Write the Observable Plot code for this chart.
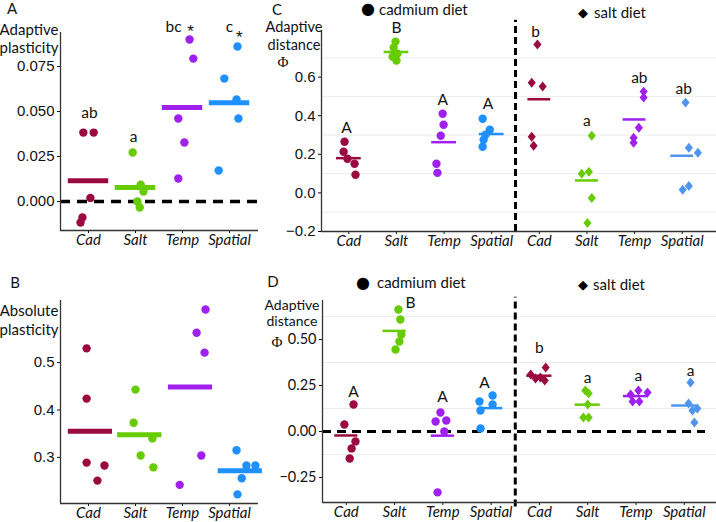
<!DOCTYPE html>
<html><head><meta charset="utf-8">
<script src="https://cdn.jsdelivr.net/npm/d3@7"></script>
<script src="https://cdn.jsdelivr.net/npm/@observablehq/plot@0.6"></script>
<style>
body{margin:0;background:#fff;}
#root{position:relative;width:716px;height:522px;overflow:hidden;}
.lbl{position:absolute;font-family:Lato,sans-serif;color:#111;white-space:nowrap;line-height:1;transform:translate(-50%,-50%);}
.pan{position:absolute;}
</style></head><body><div id="root"></div>
<script>
// ---------- data ----------
const categories = ["Cad", "Salt", "Temp", "Spatial"];
const colors = ["#9b0a3f", "#66cc00", "#a020f0", "#1e90ff"];
const saltDietColors = ["#9b0a3f", "#66cc00", "#a020f0", "#4f95ee"];

// Panel A: adaptive plasticity
const plastA = [
  [0.0383, 0.0383, 0.0020, -0.0089, -0.0117],
  [0.0272, 0.0094, 0.0056, 0.0000, -0.0033],
  [0.0900, 0.0794, 0.0461, 0.0328, 0.0128],
  [0.0861, 0.0683, 0.0567, 0.0461, 0.0172]
];
const jitA = [
  [-0.11, 0.11, 0.04, -0.13, -0.17],
  [-0.06, 0.11, 0.17, 0.04, 0.09],
  [0.15, 0.23, -0.09, 0.04, -0.09],
  [0.17, -0.11, 0.15, 0.19, -0.23]
];
const lettersA = ["ab", "a", "bc", "c"];
const letterYA = [0.0494, 0.0356, 0.0967, 0.0967];
const letterJitA = [0.02, -0.04, -0.19, 0.0];
const starCatsA = [2, 3];
const starYA = [0.0945, 0.0912];
const starJitA = [0.17, 0.21];
const ticksA = [0, 0.025, 0.05, 0.075];

// Panel B: absolute plasticity
const absB = [
  [0.530, 0.424, 0.289, 0.283, 0.251],
  [0.443, 0.373, 0.340, 0.304, 0.279],
  [0.612, 0.563, 0.521, 0.304, 0.242],
  [0.315, 0.283, 0.283, 0.256, 0.222]
];
const jitB = [
  [-0.04, -0.04, -0.04, 0.34, 0.19],
  [0.0, -0.04, 0.36, 0.11, 0.38],
  [0.49, 0.30, 0.47, 0.40, -0.06],
  [0.15, 0.36, 0.55, 0.26, 0.17]
];
const meanShiftB = [0.04, 0.09, 0.17, 0.23];
const ticksB = [0.3, 0.4, 0.5];

// Panel C: adaptive distance (cadmium diet / salt diet)
const distCcad = [
  [0.265, 0.213, 0.177, 0.151, 0.094],
  [0.784, 0.753, 0.722, 0.706, 0.686],
  [0.410, 0.353, 0.296, 0.151, 0.104],
  [0.384, 0.327, 0.301, 0.275, 0.239]
];
const jitCcad = [
  [-0.09, -0.11, -0.03, 0.12, 0.14],
  [-0.02, -0.06, 0.02, -0.08, 0.0],
  [-0.03, -0.01, -0.07, -0.16, -0.14],
  [-0.19, -0.04, -0.13, -0.17, -0.19]
];
const distCsalt = [
  [0.769, 0.571, 0.551, 0.291, 0.244],
  [0.296, 0.109, 0.099, -0.026, -0.156],
  [0.525, 0.494, 0.338, 0.286, 0.260],
  [0.468, 0.234, 0.208, 0.036, 0.016]
];
const jitCsalt = [
  [-0.04, -0.16, 0.07, -0.16, -0.12],
  [0.10, 0.04, -0.11, 0.10, 0.01],
  [0.19, 0.19, 0.09, -0.02, -0.02],
  [0.07, 0.14, 0.33, 0.14, 0.01]
];
const lettersC = ["A", "B", "A", "A", "b", "a", "ab", "ab"];
const letterYC = [0.338, 0.852, 0.483, 0.462, 0.836, 0.374, 0.597, 0.540];
const letterJitC = [-0.05, 0.0, -0.03, -0.08, -0.08, 0.0, 0.1, 0.03];
const ticksC = [-0.2, 0, 0.2, 0.4, 0.6];
const gridC = [-0.1, 0.1, 0.3, 0.5, 0.7];

// Panel D: adaptive distance (cadmium diet / salt diet)
const distDcad = [
  [0.147, 0.038, -0.054, -0.092, -0.147],
  [0.663, 0.609, 0.527, 0.489, 0.446],
  [0.103, 0.054, 0.060, 0.000, -0.331],
  [0.196, 0.163, 0.147, 0.114, 0.016]
];
const jitDcad = [
  [0.15, -0.04, 0.19, 0.11, 0.07],
  [0.08, 0.12, 0.14, 0.10, 0.02],
  [-0.05, -0.15, 0.07, 0.03, -0.11],
  [0.03, -0.24, 0.03, -0.22, -0.22]
];
const distDsalt = [
  [0.348, 0.310, 0.293, 0.288, 0.277],
  [0.223, 0.207, 0.147, 0.076, 0.076],
  [0.223, 0.201, 0.212, 0.163, 0.163],
  [0.266, 0.152, 0.114, 0.125, 0.049]
];
const jitDsalt = [
  [0.13, -0.18, 0.02, -0.08, 0.11],
  [-0.05, 0.02, 0.0, -0.09, 0.02],
  [0.05, -0.11, 0.24, -0.07, 0.07],
  [0.13, 0.09, 0.17, 0.27, 0.21]
];
const lettersD = ["A", "B", "A", "A", "b", "a", "a", "a"];
const letterYD = [0.217, 0.700, 0.190, 0.266, 0.451, 0.293, 0.299, 0.326];
const letterJitD = [0.15, 0.33, -0.01, -0.14, 0.0, 0.0, 0.05, 0.13];
const ticksD = [-0.25, 0, 0.25, 0.5];
const gridD = [-0.125, 0.125, 0.375, 0.625];

// ---------- helpers ----------
const root = document.getElementById("root");
const diamondSym = {
  draw(ctx, size) {
    const r = Math.sqrt(size / 2);
    const w = r * 0.9, h = r * 1.1;
    ctx.moveTo(0, -h); ctx.lineTo(w, 0); ctx.lineTo(0, h); ctx.lineTo(-w, 0); ctx.closePath();
  }
};
function pts(values, jit, offset, cols) {
  return values.flatMap((arr, i) => arr.map((v, k) => ({x: i + offset + jit[i][k], y: v, fill: cols[i]})));
}
function means(values, offset, half, cols, shift) {
  return values.map((arr, i) => {
    const c = i + offset + (shift ? shift[i] : 0);
    return {x1: c - half, x2: c + half, y: d3.mean(arr), stroke: cols[i]};
  });
}
function letterData(letters, ys, jit) {
  return letters.map((t, i) => ({x: i + jit[i], y: ys[i], t}));
}
function place(svg, left, top) {
  svg.classList.add("pan");
  svg.style.left = left + "px";
  svg.style.top = top + "px";
  d3.select(svg).selectAll("g[aria-label^='x-axis'] text")
    .style("font-family", "Lato, sans-serif").style("font-style", "italic").style("font-size", "15px").attr("fill", "#111");
  root.appendChild(svg);
}
function lbl(text, cx, cy, size, extra = "") {
  const d = document.createElement("div");
  d.className = "lbl";
  d.textContent = text;
  d.style.left = cx + "px";
  d.style.top = cy + "px";
  d.style.fontSize = size + "px";
  if (extra) d.style.cssText += extra;
  root.appendChild(d);
}
const baseStyle = (ff, fs) => ({fontFamily: ff, fontSize: fs + "px", color: "#111", background: "transparent", overflow: "visible"});
const axisLineColor = "#333";

// ---------- Panel A ----------
{
  const xd = [-0.596, 3.617], yd = [-0.0161, 0.0939];
  const svg = Plot.plot({
    width: 260, height: 255, marginLeft: 60, marginTop: 32, marginBottom: 25, marginRight: 2,
    style: baseStyle("Liberation Sans, Arial, sans-serif", 15),
    x: {domain: xd, ticks: [0, 1, 2, 3], tickFormat: i => categories[i], tickSize: 3, tickPadding: 1, label: null},
    y: {domain: yd, ticks: ticksA, tickFormat: d3.format(".3f"), tickSize: 3, tickPadding: 3, label: null},
    color: {type: "identity"},
    marks: [
      Plot.ruleY([0], {stroke: "black", strokeWidth: 3.5, strokeDasharray: "10,7"}),
      Plot.ruleX([xd[0]], {stroke: axisLineColor, strokeWidth: 1.3}),
      Plot.ruleY([yd[0]], {stroke: axisLineColor, strokeWidth: 1.3}),
      Plot.ruleY(means(plastA, 0, 0.43, colors), {x1: "x1", x2: "x2", y: "y", stroke: "stroke", strokeWidth: 5}),
      Plot.dot(pts(plastA, jitA, 0, colors), {x: "x", y: "y", fill: "fill", r: 4.2, stroke: null}),
      Plot.text(letterData(lettersA, letterYA, letterJitA), {x: "x", y: "y", text: "t", fontFamily: "Lato, sans-serif", fontSize: 15.5, fill: "#111"}),
      Plot.text(starCatsA.map((c, i) => ({x: c + starJitA[i], y: starYA[i]})), {x: "x", y: "y", text: () => "*", fontFamily: "Liberation Sans, sans-serif", fontSize: 17, fill: "#111"})
    ]
  });
  place(svg, 0, 0);
}

// ---------- Panel B ----------
{
  const xd = [-0.596, 3.617], yd = [0.2027, 0.631];
  const svg = Plot.plot({
    width: 260, height: 262, marginLeft: 60, marginTop: 40, marginBottom: 19, marginRight: 2,
    style: baseStyle("Liberation Sans, Arial, sans-serif", 15),
    x: {domain: xd, ticks: [0, 1, 2, 3], tickFormat: i => categories[i], tickSize: 3, tickPadding: 1, label: null},
    y: {domain: yd, ticks: ticksB, tickFormat: d3.format(".1f"), tickSize: 3, tickPadding: 3, label: null},
    color: {type: "identity"},
    marks: [
      Plot.ruleX([xd[0]], {stroke: axisLineColor, strokeWidth: 1.3}),
      Plot.ruleY([yd[0]], {stroke: axisLineColor, strokeWidth: 1.3}),
      Plot.ruleY(means(absB, 0, 0.47, colors, meanShiftB), {x1: "x1", x2: "x2", y: "y", stroke: "stroke", strokeWidth: 5}),
      Plot.dot(pts(absB, jitB, 0, colors), {x: "x", y: "y", fill: "fill", r: 4.2, stroke: null})
    ]
  });
  place(svg, 0, 260);
}

// ---------- Panel C ----------
{
  const xd = [-0.574, 7.72], yd = [-0.2, 0.8416];
  const svg = Plot.plot({
    width: 456, height: 255, marginLeft: 61, marginTop: 30, marginBottom: 24, marginRight: 0,
    style: baseStyle("Liberation Sans, Arial, sans-serif", 15),
    x: {domain: xd, ticks: d3.range(8), tickFormat: i => categories[i % 4], tickSize: 3, tickPadding: 1, label: null},
    y: {domain: yd, ticks: ticksC, tickFormat: d3.format(".1f"), tickSize: 3, tickPadding: 3, label: null},
    color: {type: "identity"},
    marks: [
      Plot.ruleY(gridC, {stroke: "#ececec", strokeWidth: 1}),
      Plot.ruleX([3.5], {y1: yd[0], y2: 0.895, stroke: "black", strokeWidth: 3, strokeDasharray: "7,4"}),
      Plot.ruleX([xd[0]], {stroke: axisLineColor, strokeWidth: 1.3}),
      Plot.ruleY([yd[0]], {stroke: axisLineColor, strokeWidth: 1.3}),
      Plot.ruleY(means(distCcad, 0, 0.26, colors), {x1: "x1", x2: "x2", y: "y", stroke: "stroke", strokeWidth: 2.5}),
      Plot.ruleY(means(distCsalt, 4, 0.24, saltDietColors), {x1: "x1", x2: "x2", y: "y", stroke: "stroke", strokeWidth: 2.5}),
      Plot.dot(pts(distCcad, jitCcad, 0, colors), {x: "x", y: "y", fill: "fill", r: 4.2, stroke: null}),
      Plot.dot(pts(distCsalt, jitCsalt, 4, saltDietColors), {x: "x", y: "y", fill: "fill", r: 3.6, symbol: diamondSym, stroke: null}),
      Plot.text(letterData(lettersC, letterYC, letterJitC), {x: "x", y: "y", text: "t", fontFamily: "Lato, sans-serif", fontSize: 15.5, fill: "#111"})
    ]
  });
  place(svg, 260, 0);
}

// ---------- Panel D ----------
{
  const xd = [-0.493, 7.668], yd = [-0.386, 0.712];
  const svg = Plot.plot({
    width: 456, height: 262, marginLeft: 62, marginTop: 40, marginBottom: 20, marginRight: 0,
    style: baseStyle("Lato, sans-serif", 14.5),
    x: {domain: xd, ticks: d3.range(8), tickFormat: i => categories[i % 4], tickSize: 3, tickPadding: 1, label: null},
    y: {domain: yd, ticks: ticksD, tickFormat: d3.format(".2f"), tickSize: 3, tickPadding: 3, label: null},
    color: {type: "identity"},
    marks: [
      Plot.ruleY(gridD, {stroke: "#ececec", strokeWidth: 1}),
      Plot.ruleY([0], {x1: xd[0], x2: 7.44, stroke: "black", strokeWidth: 3, strokeDasharray: "9,6"}),
      Plot.ruleX([3.5], {y1: -0.41, y2: 0.73, stroke: "black", strokeWidth: 3, strokeDasharray: "7,4"}),
      Plot.ruleX([xd[0]], {stroke: axisLineColor, strokeWidth: 1.3}),
      Plot.ruleY([yd[0]], {stroke: axisLineColor, strokeWidth: 1.3}),
      Plot.ruleY(means(distDcad, 0, 0.24, colors), {x1: "x1", x2: "x2", y: "y", stroke: "stroke", strokeWidth: 2.5}),
      Plot.ruleY(means(distDsalt, 4, 0.26, saltDietColors), {x1: "x1", x2: "x2", y: "y", stroke: "stroke", strokeWidth: 2.5}),
      Plot.dot(pts(distDcad, jitDcad, 0, colors), {x: "x", y: "y", fill: "fill", r: 4.2, stroke: null}),
      Plot.dot(pts(distDsalt, jitDsalt, 4, saltDietColors), {x: "x", y: "y", fill: "fill", r: 3.6, symbol: diamondSym, stroke: null}),
      Plot.text(letterData(lettersD, letterYD, letterJitD), {x: "x", y: "y", text: "t", fontFamily: "Lato, sans-serif", fontSize: 15.5, fill: "#111"})
    ]
  });
  place(svg, 260, 260);
}

// ---------- titles, y labels, legends ----------
lbl("A", 12, 8, 15);
lbl("B", 15, 282, 15);
lbl("C", 277, 9, 15);
lbl("D", 273, 281, 15);

lbl("Adaptive", 29, 29, 15);
lbl("plasticity", 29, 47, 15);
lbl("Absolute", 29, 310, 15);
lbl("plasticity", 29, 329, 15);

lbl("Adaptive", 294, 27, 14.5);
lbl("distance", 294, 45, 14.5);
lbl("Φ", 283, 62, 15, "font-family:'Liberation Serif',serif;");
lbl("Adaptive", 292, 305, 14);
lbl("distance", 292, 321, 14);
lbl("Φ", 277, 342, 15, "font-family:'Liberation Serif',serif;");

// legends
function legend(sym, sx, sy, text, tx, ty) {
  lbl(sym, sx, sy, sym === "●" ? 16 : 13, "font-family:'DejaVu Sans',sans-serif;color:#000;");
  lbl(text, tx, ty, 15, "transform:translate(0,-50%);");
}
legend("●", 368, 9, "cadmium diet", 379, 9);
legend("◆", 583, 12, "salt diet", 594, 12);
legend("●", 363, 283, "cadmium diet", 377, 282);
legend("◆", 583, 284, "salt diet", 593, 284);
</script></body></html>
